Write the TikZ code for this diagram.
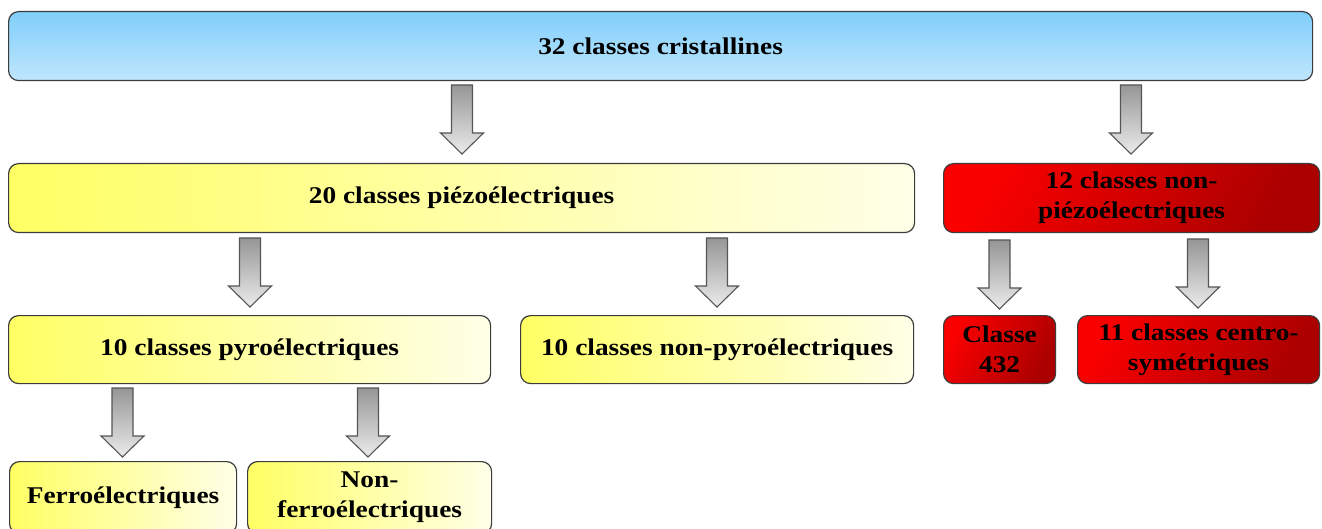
\documentclass[tikz,border=0pt]{standalone}
\usepackage{fontspec}
\setmainfont{Liberation Serif}[FakeStretch=1.14]
\definecolor{bluetop}{RGB}{128,206,251}
\definecolor{bluebot}{RGB}{192,230,253}
\definecolor{yelL}{RGB}{255,255,100}
\definecolor{yelR}{RGB}{255,255,232}
\definecolor{redL}{RGB}{250,0,0}
\definecolor{redR}{RGB}{170,0,0}
\definecolor{edge}{RGB}{60,60,60}
\definecolor{arrtop}{RGB}{150,150,150}
\definecolor{arrbot}{RGB}{235,235,235}
\definecolor{arredge}{RGB}{85,85,85}
\tikzset{
  box/.style={draw=edge, line width=1.2pt, rounded corners=10pt, anchor=north west,
    align=center, inner sep=0pt, font=\fontsize{24}{30}\selectfont\bfseries, text=black},
  bluebox/.style={box, top color=bluetop, bottom color=bluebot},
  yelbox/.style={box, left color=yelL, right color=yelR},
  redbox/.style={box, left color=redL, right color=redR, shading angle=60},
  arrowsty/.style={draw=arredge, line width=1.1pt, top color=arrtop, bottom color=arrbot, line join=miter},
  barrow/.pic={\path[arrowsty] (-10.5,0) -- (10.5,0) -- (10.5,48) -- (21.5,48) -- (0,69) -- (-21.5,48) -- (-10.5,48) -- cycle;}
}
\begin{document}
\begin{tikzpicture}[x=1pt,y=-1pt]
\clip (0,0) rectangle (1322,529);
\fill[white] (0,0) rectangle (1322,529);
% boxes
\node[bluebox, minimum width=1304pt, minimum height=69pt] (cris) at (8,11) {32 classes cristallines};
\node[yelbox, minimum width=906pt, minimum height=69pt] (piezo) at (8,163) {20 classes piézoélectriques};
\node[redbox, minimum width=376pt, minimum height=69pt] (npiezo) at (943,163) {12 classes non-\\piézoélectriques};
\node[yelbox, minimum width=482pt, minimum height=68pt] (pyro) at (8,315) {10 classes pyroélectriques};
\node[yelbox, minimum width=393pt, minimum height=68pt] (npyro) at (520,315) {10 classes non-pyroélectriques};
\node[redbox, minimum width=112pt, minimum height=68pt] (c432) at (943,315) {Classe\\432};
\node[redbox, minimum width=242pt, minimum height=68pt] (centro) at (1077,315) {11 classes centro-\\symétriques};
\node[yelbox, minimum width=227pt, minimum height=72pt] (ferro) at (9,461) {Ferroélectriques};
\node[yelbox, minimum width=244pt, minimum height=72pt] (nferro) at (247,461) {Non-\\ferroélectriques};
% block arrows
\pic at (462,85) {barrow};
\pic at (1131,85) {barrow};
\pic at (250,238) {barrow};
\pic at (717,238) {barrow};
\pic at (999.5,240) {barrow};
\pic at (1198,239) {barrow};
\pic at (122.5,388) {barrow};
\pic at (368,388) {barrow};
\end{tikzpicture}
\end{document}
